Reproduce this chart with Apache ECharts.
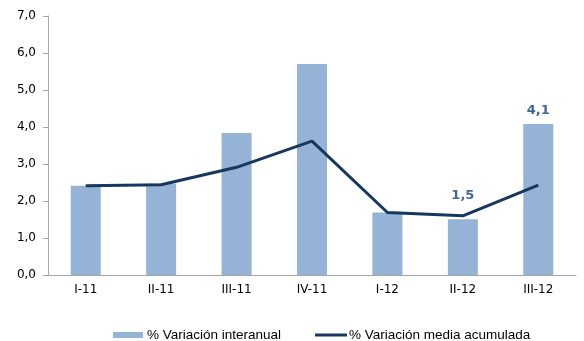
<!DOCTYPE html>
<html><head><meta charset="utf-8">
<script src="https://cdn.jsdelivr.net/npm/echarts@6/dist/echarts.min.js"></script>
<style>html,body{margin:0;padding:0;background:#fff}#c{width:584px;height:341px}</style>
</head><body><div id="c"></div>
<script>
const categories = ['I-11','II-11','III-11','IV-11','I-12','II-12','III-12'];
const interanual = [2.41, 2.47, 3.84, 5.70, 1.69, 1.51, 4.08];
const mediaAcumulada = [2.41, 2.44, 2.91, 3.62, 1.69, 1.60, 2.43];
const labelText = [null, null, null, null, null, '1,5', '4,1'];
const labelDistance = [0, 0, 0, 0, 0, 17, 7];
const yTicks = [0,1,2,3,4,5,6,7];

const fmt = v => v.toFixed(1).replace('.', ',');
const chart = echarts.init(document.getElementById('c'));
chart.setOption({
  animation: false,
  grid: {left: 48, right: 8, top: 16, bottom: 66},
  legend: [
    {left: 113, top: 328, itemWidth: 30, itemHeight: 6, icon: 'rect', padding: 0,
     data: ['% Variación interanual'],
     textStyle: {fontFamily: 'Liberation Sans', fontSize: 13.5, color: '#000', padding: [0,0,0,-1]}},
    {left: 315, top: 328, itemWidth: 32, itemHeight: 3, icon: 'rect', padding: 0,
     data: ['% Variación media acumulada'],
     textStyle: {fontFamily: 'Liberation Sans', fontSize: 13.5, color: '#000', padding: [0,0,0,-3]}}
  ],
  xAxis: {
    type: 'category', data: categories,
    axisLine: {lineStyle: {color: '#a6a6a6'}},
    axisTick: {show: false},
    axisLabel: {margin: 9, fontFamily: 'DejaVu Sans', fontSize: 12, color: '#000'}
  },
  yAxis: {
    type: 'value', min: 0, max: 7, interval: 1,
    splitLine: {show: false},
    axisLine: {show: true, lineStyle: {color: '#a6a6a6'}},
    axisTick: {show: true, length: 5, lineStyle: {color: '#a6a6a6'}},
    axisLabel: {margin: 12, fontFamily: 'DejaVu Sans', fontSize: 12, color: '#000',
      formatter: v => fmt(v)}
  },
  series: [
    {
      name: '% Variación interanual', type: 'bar', barWidth: 30,
      itemStyle: {color: '#95b3d7'},
      data: interanual.map((v, i) => labelText[i] ? {
        value: v,
        label: {show: true, position: 'top', distance: labelDistance[i],
          formatter: labelText[i], fontFamily: 'DejaVu Sans', fontWeight: 'bold',
          fontSize: 13, color: '#3f659b'}
      } : v)
    },
    {
      name: '% Variación media acumulada', type: 'line',
      showSymbol: false, symbol: 'none',
      lineStyle: {color: '#17375e', width: 3},
      itemStyle: {color: '#17375e'},
      data: mediaAcumulada
    }
  ]
});
</script></body></html>
